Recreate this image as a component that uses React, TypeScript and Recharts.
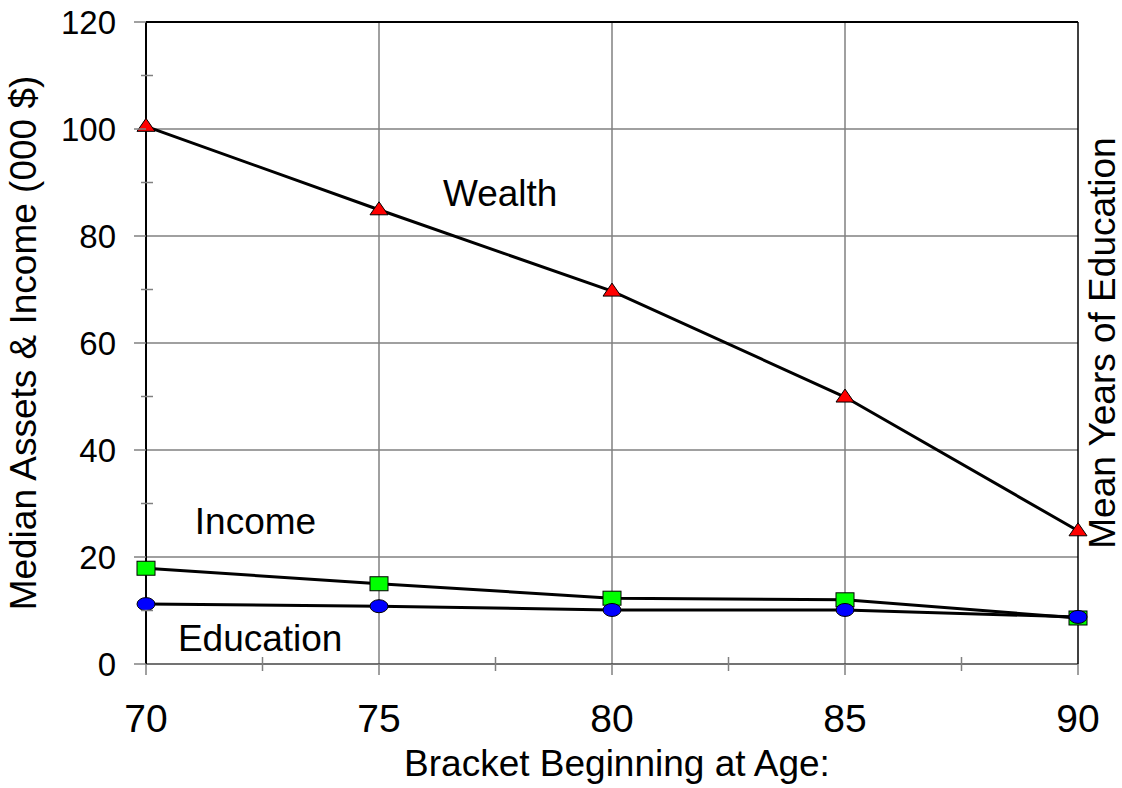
import React from "react";
import {
  LineChart, Line, XAxis, YAxis, CartesianGrid, ReferenceLine, ReferenceDot,
} from "recharts";

const ages = [70, 75, 80, 85, 90];
const wealth = [100.5, 84.9, 69.7, 49.9, 24.9];
const income = [17.9, 15.0, 12.3, 12.0, 8.6];
const education = [11.2, 10.8, 10.1, 10.1, 8.8];

const yTicks = [0, 10, 20, 30, 40, 50, 60, 70, 80, 90, 100, 110, 120];
const xTicks = [70, 72.5, 75, 77.5, 80, 82.5, 85, 87.5, 90];

const data = ages.map((age, i) => ({
  age,
  wealth: wealth[i],
  income: income[i],
  education: education[i],
}));

const FONT = "'Liberation Sans', Arial, sans-serif";
const TICK_GRAY = "#808080";

// eslint-disable-next-line @typescript-eslint/no-explicit-any
function YTick({ x, y, payload }: any) {
  const v = payload.value as number;
  if (v % 20 !== 0) {
    return <line x1={x - 5} x2={x + 7} y1={y} y2={y} stroke={TICK_GRAY} strokeWidth={1.5} />;
  }
  return (
    <g>
      <line x1={x - 12} x2={x} y1={y} y2={y} stroke={TICK_GRAY} strokeWidth={1.5} />
      <text x={x - 30} y={y} dy={12} textAnchor="end" fontSize={33} fill="#000" fontFamily={FONT}>
        {v}
      </text>
    </g>
  );
}

// eslint-disable-next-line @typescript-eslint/no-explicit-any
function XTick({ x, y, payload }: any) {
  const v = payload.value as number;
  if (v % 5 !== 0) {
    return <line x1={x} x2={x} y1={y - 7} y2={y + 7} stroke={TICK_GRAY} strokeWidth={1.5} />;
  }
  return (
    <g>
      <line x1={x} x2={x} y1={y} y2={y + 11} stroke={TICK_GRAY} strokeWidth={1.5} />
      <text x={x} y={y + 68} textAnchor="middle" fontSize={39} fill="#000" fontFamily={FONT}>
        {v}
      </text>
    </g>
  );
}

// eslint-disable-next-line @typescript-eslint/no-explicit-any
function Triangle({ cx, cy }: any) {
  if (cx == null || cy == null) return null;
  return (
    <path
      d={`M${cx},${cy - 8} L${cx + 9},${cy + 5} L${cx - 9},${cy + 5} Z`}
      fill="#ff0000" stroke="#000" strokeWidth={1}
    />
  );
}

// eslint-disable-next-line @typescript-eslint/no-explicit-any
function Square({ cx, cy }: any) {
  if (cx == null || cy == null) return null;
  return <rect x={cx - 9} y={cy - 7} width={18} height={14} fill="#00ff00" stroke="#000" strokeWidth={1} />;
}

// eslint-disable-next-line @typescript-eslint/no-explicit-any
function Ellipse({ cx, cy }: any) {
  if (cx == null || cy == null) return null;
  return <ellipse cx={cx} cy={cy} rx={9} ry={6.5} fill="#0000ff" stroke="#000" strokeWidth={1} />;
}

// in-plot series captions, centred on the reference point
function note(text: string) {
  // eslint-disable-next-line @typescript-eslint/no-explicit-any
  return (props: any) => {
    const vb = props.viewBox;
    const cx = vb.x + (vb.width || 0) / 2;
    const cy = vb.y + (vb.height || 0) / 2;
    return (
      <text x={cx} y={cy} dy={13} textAnchor="middle" fontSize={37} fill="#000" fontFamily={FONT}>
        {text}
      </text>
    );
  };
}

export default function App() {
  return (
    <div style={{ position: "absolute", left: 0, top: 0, width: 1122, height: 788, background: "#fff" }}>
      <LineChart
        width={1122}
        height={788}
        data={data}
        margin={{ top: 22, right: 0, left: 0, bottom: 0 }}
      >
        <CartesianGrid yAxisId="left" stroke={TICK_GRAY} strokeWidth={1.5}
          horizontalValues={[20, 40, 60, 80, 100]} verticalValues={[75, 80, 85]} />
        <XAxis
          dataKey="age" type="number" domain={[70, 90]} ticks={xTicks}
          interval={0} height={124} tickSize={0} tickMargin={0} tickLine={false}
          axisLine={{ stroke: "#444", strokeWidth: 1.5 }} tick={<XTick />}
          label={(p: any) => (
            <text x={p.viewBox.x + p.viewBox.width / 2 + 5} y={776} textAnchor="middle"
              fontSize={37} fill="#000" fontFamily={FONT}>
              Bracket Beginning at Age:
            </text>
          )}
        />
        <YAxis
          yAxisId="left" type="number" domain={[0, 120]} ticks={yTicks} interval={0}
          width={146} tickSize={0} tickMargin={0} tickLine={false}
          axisLine={{ stroke: "#000", strokeWidth: 2 }} tick={<YTick />}
          label={(p: any) => {
            const cy = p.viewBox.y + p.viewBox.height / 2;
            return (
              <text x={36} y={cy} textAnchor="middle" transform={`rotate(-90 36 ${cy})`}
                fontSize={37} fill="#000" fontFamily={FONT}>
                Median Assets &amp; Income (000 $)
              </text>
            );
          }}
        />
        <YAxis
          yAxisId="right" orientation="right" type="number" domain={[0, 120]}
          width={44} tick={false} tickLine={false}
          axisLine={{ stroke: "#000", strokeWidth: 1.5 }}
          label={(p: any) => {
            const cy = p.viewBox.y + p.viewBox.height / 2;
            return (
              <text x={1115} y={cy} textAnchor="middle" transform={`rotate(-90 1115 ${cy})`}
                fontSize={37} fill="#000" fontFamily={FONT}>
                Mean Years of Education
              </text>
            );
          }}
        />
        <ReferenceLine yAxisId="left" y={120} stroke="#000" strokeWidth={2} />

        <ReferenceDot yAxisId="left" x={77.6} y={88} r={0} label={note("Wealth")} />
        <ReferenceDot yAxisId="left" x={72.35} y={26.7} r={0} label={note("Income")} />
        <ReferenceDot yAxisId="left" x={72.45} y={4.9} r={0} label={note("Education")} />

        <Line yAxisId="left" dataKey="wealth" stroke="#000" strokeWidth={3}
          dot={<Triangle />} isAnimationActive={false} />
        <Line yAxisId="left" dataKey="income" stroke="#000" strokeWidth={3}
          dot={<Square />} isAnimationActive={false} />
        <Line yAxisId="right" dataKey="education" stroke="#000" strokeWidth={3}
          dot={<Ellipse />} isAnimationActive={false} />
      </LineChart>
    </div>
  );
}
